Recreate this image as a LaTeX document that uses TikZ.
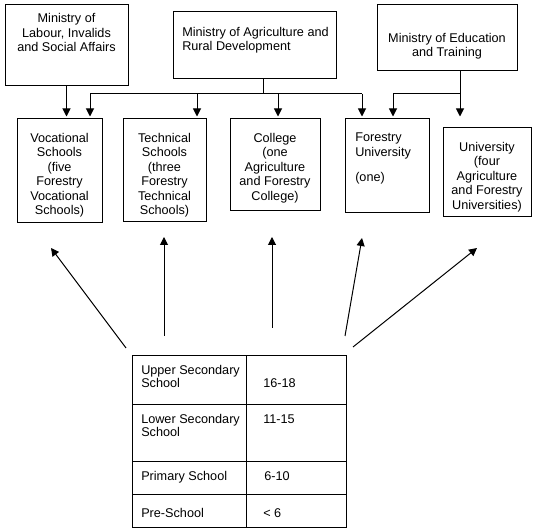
\documentclass[tikz,border=0pt]{standalone}
\usepackage{fontspec}
\setmainfont{Liberation Sans}
\usetikzlibrary{arrows.meta,fit}
\begin{document}
\begin{tikzpicture}[x=0.75pt,y=-0.75pt,
  box/.style={draw,line width=0.75pt,inner sep=0pt},
  txt/.style={inner sep=0pt,font=\fontsize{9.5pt}{10.8pt}\selectfont,anchor=north,align=center},
  ltxt/.style={inner sep=0pt,font=\fontsize{9.5pt}{10.8pt}\selectfont,anchor=north west,align=left},
  ttxt/.style={inner sep=0pt,font=\fontsize{9.5pt}{9.75pt}\selectfont,anchor=north west,align=left},
  conn/.style={line width=0.75pt},
  arr/.style={line width=0.75pt,-{Triangle[width=6pt,length=6pt]}},
  down/.style={arr,shorten >=1.5pt}]
\useasboundingbox (0,0) rectangle (539,530);
% ministries
\node[box,fit={(5,5) (128,86)}] (lab) {};
\node[box,fit={(173,12) (336,79)}] (agr) {};
\node[box,fit={(377,5) (517,71)}] (edu) {};
\node[txt] (labt) at (66.5,13.5) {Ministry of\\Labour, Invalids\\and Social Affairs};
\node[ltxt] (agrt) at (182,27) {Ministry of Agriculture and\\Rural Development};
\node[txt] (edut) at (447,33) {Ministry of Education\\and Training};
% institutions
\node[box,fit={(17,119) (102,223)}] (voc) {};
\node[box,fit={(123,119) (206,222)}] (tec) {};
\node[box,fit={(230,119) (320,211)}] (col) {};
\node[box,fit={(345,119) (429,213)}] (fu) {};
\node[box,fit={(443,128) (531,217)}] (uni) {};
\node[txt] (voct) at (59.5,133) {Vocational\\Schools\\(five\\Forestry\\Vocational\\Schools)};
\node[txt] (tect) at (164.5,133) {Technical\\Schools\\(three\\Forestry\\Technical\\Schools)};
\node[txt] (colt) at (275,133) {College\\(one\\Agriculture\\and Forestry\\College)};
\node[ltxt] (fut) at (355,133) {Forestry\\University\\[8pt](one)};
\node[txt] (unit) at (487,142) {University\\(four\\Agriculture\\and Forestry\\Universities)};
% ministry connectors
\coordinate (a0) at (263,94);
\coordinate (bL) at (90,94);
\coordinate (bT) at (197,94);
\coordinate (bC) at (278,94);
\coordinate (bR) at (362,94);
\coordinate (e0) at (460,94);
\coordinate (eL) at (393,94);
\draw[down] (lab.south) -- (lab.south |- voc.north);
\draw[conn] (agr.south -| a0) -- (a0);
\draw[conn] (bL) -- (bR);
\draw[down] (bL) -- (bL |- voc.north);
\draw[down] (bT) -- (bT |- tec.north);
\draw[down] (bC) -- (bC |- col.north);
\draw[down] (bR) -- (bR |- fu.north);
\draw[down] (edu.south -| e0) -- (e0 |- fu.north);
\draw[conn] (e0) -- (eL);
\draw[down] (eL) -- (eL |- fu.north);
% table
\node[box,fit={(132,356) (246,405)}] (c11) {};
\node[box,fit={(246,356) (346,405)}] (c12) {};
\node[box,fit={(132,405) (246,462)}] (c21) {};
\node[box,fit={(246,405) (346,462)}] (c22) {};
\node[box,fit={(132,462) (246,495)}] (c31) {};
\node[box,fit={(246,462) (346,495)}] (c32) {};
\node[box,fit={(132,495) (246,528)}] (c41) {};
\node[box,fit={(246,495) (346,528)}] (c42) {};
\node[ttxt] (t11) at (141,365.5) {Upper Secondary\\School};
\node[ttxt] (t12) at (263,378.5) {16-18};
\node[ttxt] (t21) at (141,414.5) {Lower Secondary\\School};
\node[ttxt] (t22) at (263,414.5) {11-15};
\node[ttxt] (t31) at (141,471.5) {Primary School};
\node[ttxt] (t32) at (264,471.5) {6-10};
\node[ttxt] (t41) at (141,508.5) {Pre-School};
\node[ttxt] (t42) at (263,508.5) {< 6};
% upward arrows
\coordinate (s1) at (126,348); \coordinate (p1) at (51,248);
\coordinate (s2) at (164,336); \coordinate (p2) at (164,237);
\coordinate (s3) at (272,328); \coordinate (p3) at (272,237);
\coordinate (s4) at (345,336); \coordinate (p4) at (362,238);
\coordinate (s5) at (353,347); \coordinate (p5) at (477,248);
\draw[arr] (s1) -- (p1);
\draw[arr] (s2) -- (p2);
\draw[arr] (s3) -- (p3);
\draw[arr] (s4) -- (p4);
\draw[arr] (s5) -- (p5);
\end{tikzpicture}
\end{document}
